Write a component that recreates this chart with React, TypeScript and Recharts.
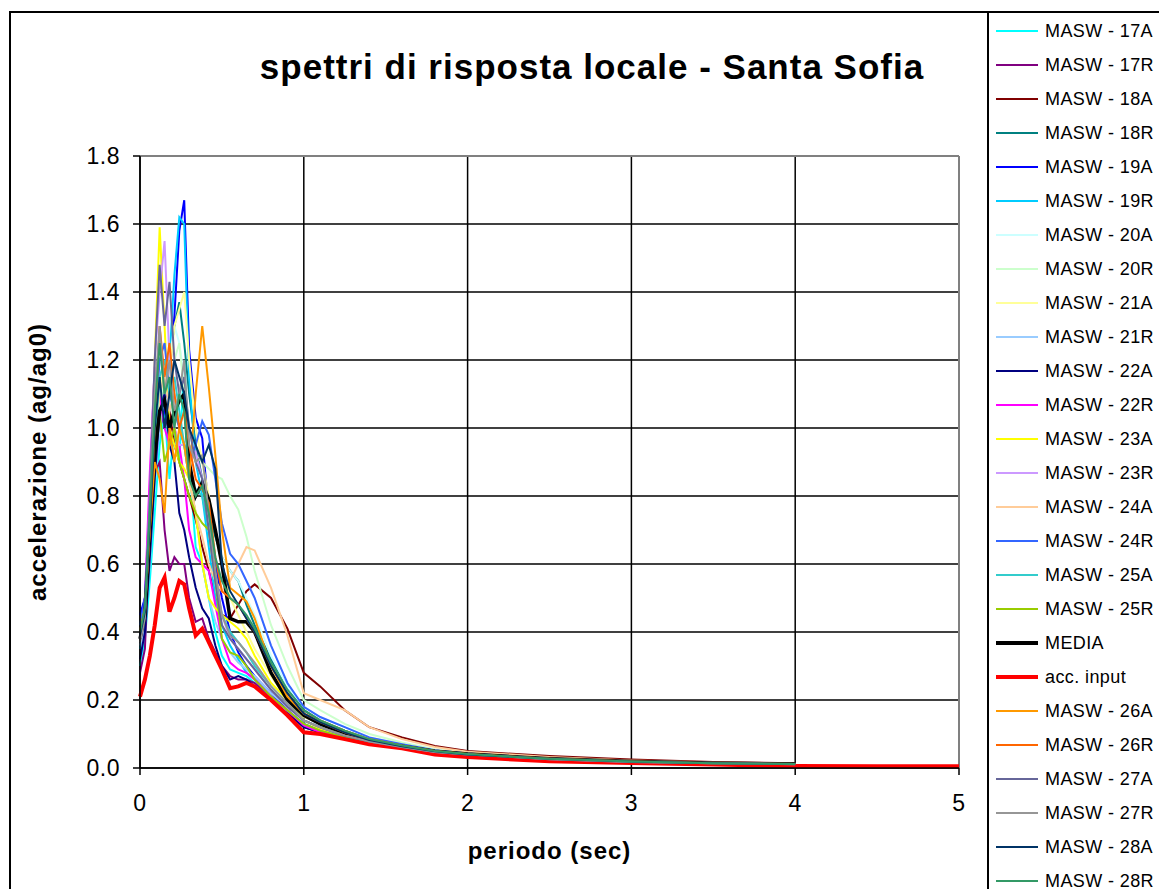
import { LineChart, Line, XAxis, YAxis, CartesianGrid, ReferenceLine } from 'recharts';

// periodo (sec)
const periods = [0, 0.03, 0.06, 0.09, 0.12, 0.15, 0.18, 0.21, 0.24, 0.27, 0.3, 0.34, 0.38, 0.42, 0.46, 0.5, 0.55, 0.6, 0.65, 0.7, 0.8, 0.9, 1.0, 1.1, 1.25, 1.4, 1.6, 1.8, 2.0, 2.5, 3.0, 3.5, 4.0, 4.5, 5.0];

const masw17A = [0.3, 0.38, 0.55, 0.75, 0.95, 1.05, 0.85, 1.0, 0.9, 1.2, 0.9, 0.65, 0.6, 0.5, 0.4, 0.33, 0.29, 0.28, 0.27, 0.25, 0.2, 0.16, 0.12, 0.105, 0.09, 0.075, 0.06, 0.045, 0.04, 0.025, 0.018, 0.014, 0.012];
const masw17R = [0.28, 0.35, 0.7, 0.87, 0.9, 0.7, 0.58, 0.62, 0.6, 0.6, 0.5, 0.43, 0.44, 0.38, 0.34, 0.3, 0.27, 0.26, 0.26, 0.25, 0.21, 0.17, 0.12, 0.105, 0.09, 0.075, 0.06, 0.045, 0.04, 0.025, 0.018, 0.013, 0.011];
const masw18A = [0.4, 0.45, 0.7, 0.95, 1.1, 1.0, 1.05, 0.95, 0.9, 0.85, 0.8, 0.73, 0.65, 0.58, 0.5, 0.45, 0.44, 0.48, 0.52, 0.54, 0.5, 0.41, 0.28, 0.24, 0.17, 0.12, 0.09, 0.065, 0.05, 0.035, 0.025, 0.018, 0.014];
const masw18R = [0.42, 0.5, 0.8, 1.0, 1.15, 1.1, 1.2, 1.3, 1.37, 1.25, 1.1, 0.95, 0.85, 0.75, 0.68, 0.62, 0.58, 0.55, 0.48, 0.42, 0.32, 0.24, 0.17, 0.14, 0.11, 0.085, 0.065, 0.05, 0.04, 0.028, 0.02, 0.015, 0.012];
const masw19A = [0.45, 0.5, 0.75, 0.9, 1.0, 1.05, 1.15, 1.33, 1.58, 1.67, 1.23, 1.03, 0.97, 0.75, 0.6, 0.5, 0.4, 0.34, 0.3, 0.27, 0.22, 0.17, 0.13, 0.11, 0.09, 0.075, 0.06, 0.045, 0.04, 0.026, 0.018, 0.014, 0.012];
const masw19R = [0.35, 0.45, 0.7, 0.85, 1.0, 1.1, 1.2, 1.45, 1.62, 1.6, 1.15, 0.9, 0.8, 0.65, 0.5, 0.42, 0.36, 0.32, 0.28, 0.26, 0.21, 0.17, 0.13, 0.11, 0.09, 0.075, 0.06, 0.046, 0.04, 0.026, 0.018, 0.014, 0.012];
const masw20A = [0.38, 0.45, 0.7, 0.9, 1.0, 1.1, 1.2, 1.3, 1.25, 1.15, 1.0, 0.9, 0.85, 0.8, 0.7, 0.62, 0.58, 0.55, 0.5, 0.45, 0.33, 0.24, 0.18, 0.15, 0.12, 0.09, 0.07, 0.05, 0.042, 0.028, 0.02, 0.015, 0.012];
const masw20R = [0.4, 0.45, 0.7, 0.9, 1.05, 1.15, 1.1, 1.2, 1.25, 1.1, 0.95, 0.92, 0.9, 0.88, 0.86, 0.85, 0.8, 0.76, 0.68, 0.58, 0.42, 0.3, 0.2, 0.17, 0.13, 0.1, 0.075, 0.055, 0.045, 0.03, 0.02, 0.015, 0.012];
const masw21A = [0.38, 0.45, 0.65, 0.9, 1.1, 1.2, 1.15, 1.3, 1.35, 1.4, 1.2, 1.0, 0.9, 0.8, 0.7, 0.6, 0.5, 0.45, 0.4, 0.35, 0.27, 0.2, 0.15, 0.13, 0.1, 0.08, 0.065, 0.05, 0.04, 0.027, 0.019, 0.014, 0.012];
const masw21R = [0.36, 0.42, 0.6, 0.85, 1.0, 1.1, 1.05, 1.1, 1.0, 0.95, 0.85, 0.75, 0.6, 0.5, 0.43, 0.38, 0.34, 0.31, 0.29, 0.27, 0.22, 0.18, 0.14, 0.12, 0.095, 0.078, 0.062, 0.047, 0.04, 0.026, 0.018, 0.014, 0.011];
const masw22A = [0.32, 0.4, 0.62, 0.85, 1.05, 1.1, 0.95, 0.9, 0.75, 0.7, 0.62, 0.53, 0.47, 0.44, 0.36, 0.3, 0.26, 0.27, 0.26, 0.24, 0.2, 0.16, 0.12, 0.105, 0.09, 0.072, 0.058, 0.045, 0.038, 0.025, 0.018, 0.013, 0.011];
const masw22R = [0.38, 0.5, 0.87, 1.18, 1.1, 1.0, 0.95, 1.0, 0.95, 0.85, 0.7, 0.62, 0.6, 0.58, 0.48, 0.38, 0.31, 0.29, 0.28, 0.26, 0.21, 0.17, 0.125, 0.105, 0.09, 0.073, 0.058, 0.045, 0.038, 0.025, 0.018, 0.013, 0.011];
const masw23A = [0.4, 0.45, 0.75, 1.2, 1.59, 1.3, 1.0, 0.95, 0.9, 0.88, 0.85, 0.75, 0.6, 0.5, 0.47, 0.45, 0.43, 0.41, 0.38, 0.33, 0.25, 0.2, 0.14, 0.115, 0.095, 0.078, 0.062, 0.047, 0.04, 0.026, 0.018, 0.014, 0.011];
const masw23R = [0.4, 0.48, 0.8, 1.2, 1.4, 1.55, 1.2, 1.0, 0.95, 0.95, 0.9, 0.93, 0.85, 0.7, 0.55, 0.45, 0.38, 0.35, 0.32, 0.29, 0.23, 0.18, 0.14, 0.12, 0.095, 0.078, 0.062, 0.047, 0.04, 0.026, 0.018, 0.014, 0.011];
const masw24A = [0.4, 0.47, 0.7, 0.95, 1.1, 1.15, 1.05, 1.1, 1.0, 0.95, 0.85, 0.75, 0.68, 0.6, 0.55, 0.52, 0.55, 0.6, 0.65, 0.64, 0.53, 0.39, 0.22, 0.2, 0.17, 0.12, 0.085, 0.062, 0.048, 0.032, 0.022, 0.016, 0.013];
const masw24R = [0.42, 0.5, 0.75, 1.0, 1.2, 1.25, 1.1, 1.05, 1.0, 0.95, 0.9, 0.95, 1.02, 0.98, 0.85, 0.72, 0.63, 0.6, 0.55, 0.5, 0.36, 0.25, 0.18, 0.15, 0.12, 0.09, 0.07, 0.052, 0.043, 0.028, 0.02, 0.015, 0.012];
const masw25A = [0.38, 0.45, 0.7, 0.95, 1.15, 1.2, 1.1, 1.15, 1.05, 0.95, 0.85, 0.82, 0.8, 0.7, 0.55, 0.45, 0.4, 0.37, 0.34, 0.3, 0.24, 0.19, 0.14, 0.12, 0.095, 0.078, 0.062, 0.047, 0.04, 0.026, 0.018, 0.014, 0.011];
const masw25R = [0.4, 0.47, 0.72, 0.95, 1.05, 0.9, 0.95, 1.0, 0.9, 0.85, 0.8, 0.75, 0.72, 0.7, 0.55, 0.38, 0.34, 0.33, 0.3, 0.26, 0.21, 0.17, 0.13, 0.11, 0.09, 0.075, 0.06, 0.046, 0.039, 0.025, 0.018, 0.013, 0.011];
const media = [0.38, 0.45, 0.7, 0.92, 1.05, 1.08, 1.0, 1.05, 1.08, 1.1, 0.9, 0.8, 0.84, 0.79, 0.7, 0.6, 0.44, 0.43, 0.43, 0.4, 0.28, 0.2, 0.155, 0.13, 0.1, 0.08, 0.064, 0.049, 0.041, 0.027, 0.019, 0.014, 0.012];
const accInput = [0.21, 0.26, 0.33, 0.42, 0.53, 0.56, 0.46, 0.5, 0.55, 0.54, 0.47, 0.39, 0.41, 0.37, 0.33, 0.29, 0.235, 0.24, 0.25, 0.24, 0.2, 0.155, 0.105, 0.1, 0.085, 0.07, 0.058, 0.04, 0.032, 0.02, 0.015, 0.01, 0.006, 0.005, 0.005];
const masw26A = [0.4, 0.46, 0.7, 0.9, 0.85, 0.75, 1.0, 0.9, 1.0, 0.95, 0.85, 1.1, 1.3, 1.12, 0.92, 0.7, 0.53, 0.51, 0.49, 0.44, 0.3, 0.21, 0.16, 0.14, 0.11, 0.085, 0.066, 0.05, 0.041, 0.027, 0.019, 0.014, 0.012];
const masw26R = [0.4, 0.47, 0.7, 1.0, 1.3, 1.15, 1.25, 1.1, 1.0, 1.05, 0.95, 0.85, 0.82, 0.78, 0.62, 0.52, 0.5, 0.48, 0.44, 0.4, 0.3, 0.22, 0.16, 0.135, 0.105, 0.082, 0.064, 0.049, 0.04, 0.027, 0.019, 0.014, 0.012];
const masw27A = [0.38, 0.45, 0.8, 1.2, 1.48, 1.3, 1.43, 1.2, 1.1, 1.15, 1.0, 0.9, 0.85, 0.7, 0.55, 0.42, 0.38, 0.35, 0.32, 0.29, 0.23, 0.18, 0.14, 0.12, 0.095, 0.078, 0.062, 0.047, 0.04, 0.026, 0.018, 0.014, 0.011];
const masw27R = [0.37, 0.44, 0.75, 1.1, 1.3, 1.1, 1.2, 1.05, 1.1, 1.2, 0.95, 0.9, 0.92, 0.75, 0.58, 0.45, 0.39, 0.37, 0.34, 0.31, 0.24, 0.19, 0.14, 0.12, 0.096, 0.078, 0.062, 0.047, 0.04, 0.026, 0.018, 0.014, 0.011];
const masw28A = [0.39, 0.46, 0.72, 1.0, 1.15, 1.0, 1.1, 1.2, 1.15, 1.1, 1.0, 0.95, 0.9, 0.95, 0.88, 0.6, 0.52, 0.48, 0.44, 0.4, 0.3, 0.22, 0.16, 0.135, 0.105, 0.082, 0.064, 0.049, 0.04, 0.027, 0.019, 0.014, 0.012];
const masw28R = [0.4, 0.47, 0.75, 1.05, 1.25, 1.1, 1.15, 1.0, 1.1, 1.05, 0.85, 0.8, 0.83, 0.75, 0.62, 0.55, 0.5, 0.48, 0.45, 0.41, 0.31, 0.23, 0.17, 0.14, 0.11, 0.085, 0.066, 0.05, 0.041, 0.027, 0.019, 0.014, 0.012];

const series = [
  { key: 's17A', name: 'MASW - 17A', color: '#00FFFF', values: masw17A },
  { key: 's17R', name: 'MASW - 17R', color: '#800080', values: masw17R },
  { key: 's18A', name: 'MASW - 18A', color: '#800000', values: masw18A },
  { key: 's18R', name: 'MASW - 18R', color: '#008080', values: masw18R },
  { key: 's19A', name: 'MASW - 19A', color: '#0000FF', values: masw19A },
  { key: 's19R', name: 'MASW - 19R', color: '#00CCFF', values: masw19R },
  { key: 's20A', name: 'MASW - 20A', color: '#CCFFFF', values: masw20A },
  { key: 's20R', name: 'MASW - 20R', color: '#CCFFCC', values: masw20R },
  { key: 's21A', name: 'MASW - 21A', color: '#FFFF99', values: masw21A },
  { key: 's21R', name: 'MASW - 21R', color: '#99CCFF', values: masw21R },
  { key: 's22A', name: 'MASW - 22A', color: '#000080', values: masw22A },
  { key: 's22R', name: 'MASW - 22R', color: '#FF00FF', values: masw22R },
  { key: 's23A', name: 'MASW - 23A', color: '#FFFF00', values: masw23A },
  { key: 's23R', name: 'MASW - 23R', color: '#CC99FF', values: masw23R },
  { key: 's24A', name: 'MASW - 24A', color: '#FFCC99', values: masw24A },
  { key: 's24R', name: 'MASW - 24R', color: '#3366FF', values: masw24R },
  { key: 's25A', name: 'MASW - 25A', color: '#33CCCC', values: masw25A },
  { key: 's25R', name: 'MASW - 25R', color: '#99CC00', values: masw25R },
  { key: 'media', name: 'MEDIA', color: '#000000', values: media, width: 3.5 },
  { key: 'acc', name: 'acc. input', color: '#FF0000', values: accInput, width: 4 },
  { key: 's26A', name: 'MASW - 26A', color: '#FF9900', values: masw26A },
  { key: 's26R', name: 'MASW - 26R', color: '#FF6600', values: masw26R },
  { key: 's27A', name: 'MASW - 27A', color: '#666699', values: masw27A },
  { key: 's27R', name: 'MASW - 27R', color: '#969696', values: masw27R },
  { key: 's28A', name: 'MASW - 28A', color: '#003366', values: masw28A },
  { key: 's28R', name: 'MASW - 28R', color: '#339966', values: masw28R },
];

const xTicks = [0, 1, 2, 3, 4, 5];
const yTicks = [0, 0.2, 0.4, 0.6, 0.8, 1.0, 1.2, 1.4, 1.6, 1.8];

const data = periods.map((t, i) => {
  const row: Record<string, number | undefined> = { t };
  series.forEach((s) => {
    row[s.key] = s.values[i];
  });
  return row;
});

const font = '"Liberation Sans", Arial, sans-serif';

const App = () => {
  return (
    <div style={{ position: 'absolute', left: 0, top: 0, width: 1159, height: 889, overflow: 'hidden', background: '#fff', fontFamily: font }}>
      <div style={{ position: 'absolute', left: 9, top: 11, width: 1300, height: 1000, border: '2px solid #000' }} />
      <div style={{ position: 'absolute', left: 987, top: 11, width: 2, height: 900, background: '#000' }} />
      <div style={{ position: 'absolute', left: 192, top: 45, width: 800, textAlign: 'center', fontSize: 35, fontWeight: 'bold', letterSpacing: 1, lineHeight: '44px' }}>
        spettri di risposta locale - Santa Sofia
      </div>

      <div style={{ position: 'absolute', left: 0, top: 0 }}>
        <LineChart width={1159} height={889} data={data} margin={{ top: 156, right: 200, bottom: 81, left: 80 }}>
          <CartesianGrid stroke="#000" strokeWidth={1.5} horizontalValues={yTicks} verticalValues={xTicks} />
          <XAxis
            dataKey="t"
            type="number"
            domain={[0, 5]}
            ticks={xTicks}
            height={40}
            tickSize={7}
            tickMargin={20}
            axisLine={{ stroke: '#000', strokeWidth: 1.5 }}
            tickLine={{ stroke: '#000', strokeWidth: 1.5 }}
            tick={{ fontSize: 23, fill: '#000', fontFamily: font, letterSpacing: 0.5 }}
            label={{ value: 'periodo (sec)', position: 'bottom', offset: 34, fontSize: 24, fontWeight: 'bold', fill: '#000', fontFamily: font, letterSpacing: 1 }}
          />
          <YAxis
            type="number"
            domain={[0, 1.8]}
            ticks={yTicks}
            width={60}
            tickSize={7}
            tickMargin={13}
            tickFormatter={(v: number) => v.toFixed(1)}
            axisLine={{ stroke: '#000', strokeWidth: 1.5 }}
            tickLine={{ stroke: '#000', strokeWidth: 1.5 }}
            tick={{ fontSize: 23, fill: '#000', fontFamily: font, letterSpacing: 0.5 }}
            label={{ value: 'accelerazione (ag/ag0)', angle: -90, position: 'insideLeft', offset: -43, fontSize: 24, fontWeight: 'bold', fill: '#000', fontFamily: font, letterSpacing: 1, style: { textAnchor: 'middle' } }}
          />
          <ReferenceLine y={1.8} stroke="#808080" strokeWidth={2} />
          <ReferenceLine x={5} stroke="#808080" strokeWidth={2} />
          {series.map((s) => (
            <Line
              key={s.key}
              type="linear"
              dataKey={s.key}
              name={s.name}
              stroke={s.color}
              strokeWidth={s.width ?? 2}
              dot={false}
              activeDot={false}
              isAnimationActive={false}
            />
          ))}
        </LineChart>
      </div>

      <div style={{ position: 'absolute', left: 989, top: 14 }}>
        {series.map((s) => (
          <div key={s.key} style={{ position: 'relative', height: 34, width: 170 }}>
            <div style={{ position: 'absolute', left: 7, top: 17 - (s.width ? 2 : 1), width: 42, height: s.width ? 4 : 2, background: s.color }} />
            <div style={{ position: 'absolute', left: 56, top: 0, lineHeight: '34px', fontSize: 18, letterSpacing: 0.4, color: '#000', whiteSpace: 'nowrap' }}>
              {s.name}
            </div>
          </div>
        ))}
      </div>
    </div>
  );
};

export default App;
